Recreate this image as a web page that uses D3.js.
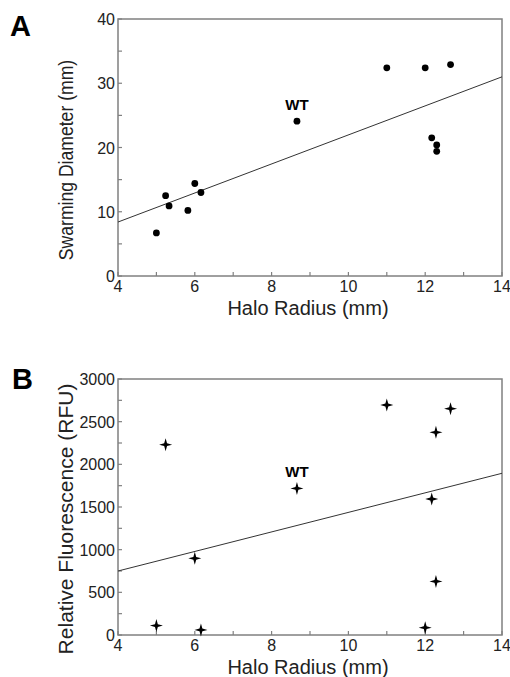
<!DOCTYPE html>
<html><head><meta charset="utf-8">
<script src="https://cdn.jsdelivr.net/npm/d3@7/dist/d3.min.js"></script>
<style>body{margin:0;background:#fff}svg{display:block}text{font-family:"Liberation Sans",Arial,sans-serif}</style>
</head><body>
<script>
// Panel A data
const haloA  = [5.0, 5.24, 5.33, 5.82, 6.0, 6.16, 8.66, 11.0, 12.0, 12.66, 12.17, 12.30, 12.30];
const swarmA = [6.7, 12.5, 10.9, 10.2, 14.4, 13.0, 24.1, 32.4, 32.4, 32.9, 21.5, 20.4, 19.4];
const fitA = {slope: 2.26, intercept: -0.64};
// Panel B data
const haloB  = [5.0, 5.24, 6.0, 6.16, 8.66, 11.0, 12.66, 12.28, 12.17, 12.28, 12.0];
const fluorB = [110, 2230, 898, 60, 1718, 2695, 2652, 2375, 1594, 628, 86];
const fitB = {slope: 114.5, intercept: 292};
const wtIndexA = 6, wtIndexB = 4;
const xTicks = [4, 6, 8, 10, 12, 14];
const yTicksA = [0, 10, 20, 30, 40];
const yTicksB = [0, 500, 1000, 1500, 2000, 2500, 3000];

const W = 510, H = 677;
const svg = d3.select("body").append("svg").attr("width", W).attr("height", H);
const axisCol = "#808080", textCol = "#222";

function panel(o) {
  const x = d3.scaleLinear().domain([4, 14]).range([118, 502]);
  const y = d3.scaleLinear().domain(o.yDomain).range([o.bottom, o.top]);
  const g = svg.append("g");
  g.append("rect").attr("x", x(4)).attr("y", y(o.yDomain[1]))
    .attr("width", x(14) - x(4)).attr("height", y(o.yDomain[0]) - y(o.yDomain[1]))
    .attr("fill", "none").attr("stroke", axisCol).attr("stroke-width", 1.5);
  d3.range(4, 14.01, 1).forEach(v => {
    g.append("line").attr("x1", x(v)).attr("x2", x(v)).attr("y1", o.bottom).attr("y2", o.bottom - 4)
      .attr("stroke", axisCol).attr("stroke-width", 1.2);
  });
  d3.range(o.yDomain[0], o.yDomain[1] + 0.001, o.yMinor).forEach(v => {
    g.append("line").attr("x1", 118).attr("x2", 122).attr("y1", y(v)).attr("y2", y(v))
      .attr("stroke", axisCol).attr("stroke-width", 1.2);
  });
  g.selectAll(".xl").data(xTicks).join("text").attr("x", d => x(d)).attr("y", o.bottom + 16)
    .attr("text-anchor", "middle").attr("font-size", 16).attr("fill", textCol).text(d => d);
  g.selectAll(".yl").data(o.yTicks).join("text").attr("x", 115).attr("y", d => y(d) + 6)
    .attr("text-anchor", "end").attr("font-size", 16).attr("fill", textCol).text(d => d);
  g.append("line").attr("x1", x(4)).attr("y1", y(o.fit.intercept + o.fit.slope * 4))
    .attr("x2", x(14)).attr("y2", y(o.fit.intercept + o.fit.slope * 14))
    .attr("stroke", "#333").attr("stroke-width", 1);
  const pts = o.xs.map((v, i) => [v, o.ys[i]]);
  if (o.marker === "circle") {
    g.selectAll(".pt").data(pts).join("circle").attr("cx", d => x(d[0])).attr("cy", d => y(d[1]))
      .attr("r", 3.4).attr("fill", "#000");
  } else {
    const R = 6.5, r = 2.0;
    const star = d3.range(8).map(k => {
      const a = k * Math.PI / 4, rad = k % 2 === 0 ? R : r;
      return [rad * Math.sin(a), -rad * Math.cos(a)];
    });
    const sp = d3.line()(star) + "Z";
    g.selectAll(".pt").data(pts).join("path").attr("d", sp)
      .attr("transform", d => `translate(${x(d[0])},${y(d[1])})`).attr("fill", "#000");
  }
  const wt = pts[o.wt];
  g.append("text").attr("x", x(wt[0])).attr("y", y(wt[1]) - 11).attr("text-anchor", "middle")
    .attr("font-size", 15).attr("font-weight", "bold").attr("fill", "#000").text("WT");
  g.append("text").attr("x", 308).attr("y", o.bottom + 39).attr("text-anchor", "middle")
    .attr("font-size", 20).attr("fill", textCol).text("Halo Radius (mm)");
  g.append("text").attr("transform", `translate(73,${o.yTitleC}) rotate(-90) scale(${o.yTitleScale},1)`)
    .attr("text-anchor", "middle").attr("font-size", o.yTitleSize).attr("fill", textCol).text(o.yTitle);
  svg.append("text").attr("x", o.letterX).attr("y", o.letterY).attr("font-size", 29)
    .attr("font-weight", "bold").attr("fill", "#000").text(o.letter);
}

panel({yDomain: [0, 40], top: 19, bottom: 276, yMinor: 5, yTicks: yTicksA,
  fit: fitA, xs: haloA, ys: swarmA, marker: "circle", wt: wtIndexA,
  yTitle: "Swarming Diameter (mm)", yTitleC: 160, yTitleSize: 20, yTitleScale: 0.88,
  letter: "A", letterX: 10, letterY: 36});
panel({yDomain: [0, 3000], top: 379, bottom: 635, yMinor: 250, yTicks: yTicksB,
  fit: fitB, xs: haloB, ys: fluorB, marker: "star", wt: wtIndexB,
  yTitle: "Relative Fluorescence (RFU)", yTitleC: 519, yTitleSize: 21, yTitleScale: 1.0,
  letter: "B", letterX: 12, letterY: 389});
</script>
</body></html>
